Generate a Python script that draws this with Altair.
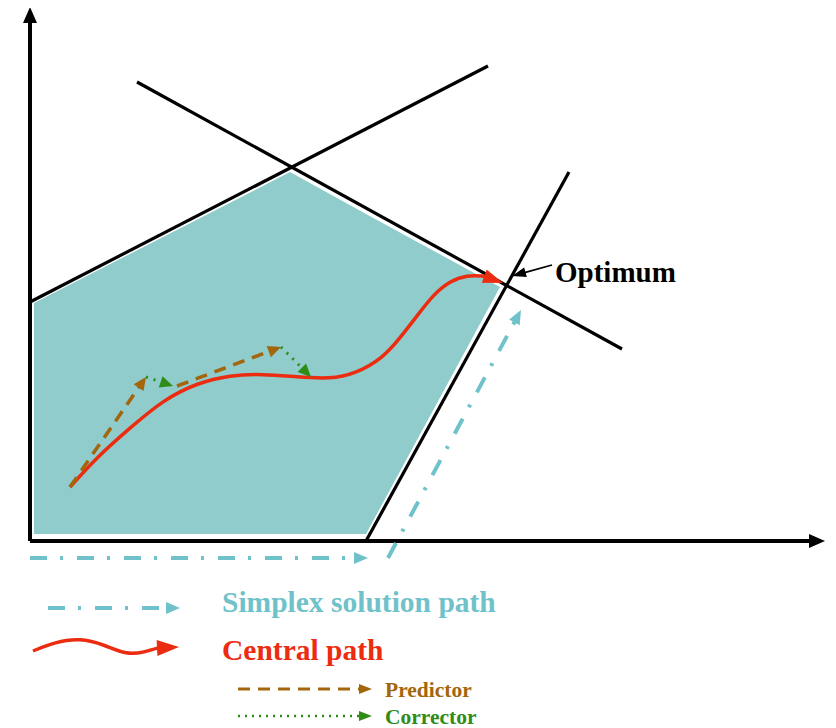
import math
import altair as alt
import pandas as pd

# ---------------- data (image coordinates, y grows downward) ----------------
# coordinate axes (last point of each = arrow tip)
Y_AXIS_X = [30, 30]
Y_AXIS_Y = [541, 7]
X_AXIS_X = [30, 825]
X_AXIS_Y = [541, 541]

# constraint lines
C1_X = [30, 488]
C1_Y = [302, 66]
C2_X = [137, 622]
C2_Y = [82, 349]
C3_X = [366, 569]
C3_Y = [541, 172]

# feasible region (teal polygon as area between top and bottom edges)
REGION_X = [34, 290, 366, 500]
REGION_TOP = [303, 172, 214, 287]
REGION_BOTTOM = [534, 534, 534, 287]

# central path (last point = arrow tip)
CENTRAL_X = [70, 97, 130, 163, 197, 230, 263, 297, 330, 355, 383, 400, 417, 433, 450, 467, 484, 503]
CENTRAL_Y = [487, 457, 428, 400, 383, 375, 374, 377, 379, 374, 358, 338, 316, 295, 281, 275, 276, 283]

# predictor / corrector steps
PRED1_X = [70, 146]
PRED1_Y = [487, 377]
PRED2_X = [177, 281]
PRED2_Y = [386, 347]
CORR1_X = [146, 173]
CORR1_Y = [377, 386]
CORR2_X = [281, 311]
CORR2_Y = [347, 377]

# simplex solution path
SIMP1_X = [30, 368]
SIMP1_Y = [558, 558]
SIMP2_X = [388, 521]
SIMP2_Y = [558, 310]

# optimum pointer
OPT_X = [552, 512]
OPT_Y = [265, 276]

# legend samples
LEG_SIMP_X = [48, 180]
LEG_SIMP_Y = [608, 608]
LEG_CENT_X = [33, 55, 80, 105, 127, 145, 157, 179]
LEG_CENT_Y = [651, 642, 638, 645, 655, 652, 648, 647]
LEG_PRED_X = [238, 372]
LEG_PRED_Y = [689, 689]
LEG_CORR_X = [238, 372]
LEG_CORR_Y = [716, 716]

# text labels
LABELS = ["Optimum", "Simplex solution path", "Central path", "Predictor", "Corrector"]
LABEL_X = [555, 222, 222, 385, 385]
LABEL_Y = [282, 612, 660, 697, 724]

# ---------------- styles ----------------
BLACK = "#000000"
TEAL_FILL = "#8FCCCB"
TEAL = "#6FC2CA"
RED = "#EC2C10"
BROWN = "#A3660C"
GREEN = "#2F8C17"
LABEL_SIZE = [29, 29.5, 29.5, 21.5, 21.5]
LABEL_COLOR = [BLACK, TEAL, RED, BROWN, GREEN]

XS = alt.Scale(domain=[8, 828], nice=False, zero=False)
YS = alt.Scale(domain=[8, 728], nice=False, zero=False, reverse=True)


def enc_xy(yfield="y"):
    return dict(x=alt.X("x:Q", scale=XS, axis=None),
                y=alt.Y(f"{yfield}:Q", scale=YS, axis=None))


def line(xs, ys, color, width, dash=None, interp="linear", cap="butt"):
    df = pd.DataFrame({"x": list(xs), "y": list(ys), "i": list(range(len(xs)))})
    kw = dict(color=color, strokeWidth=width, interpolate=interp,
              strokeCap=cap, strokeJoin="round")
    if dash:
        kw["strokeDash"] = dash
    return alt.Chart(df).mark_line(**kw).encode(**enc_xy(), order=alt.Order("i:Q"))


def arrow(xs, ys, color, width, head_len, head_half, dash=None, interp="linear", cap="butt"):
    tx, ty = xs[-1], ys[-1]
    px, py = xs[-2], ys[-2]
    d = math.hypot(tx - px, ty - py)
    ux, uy = (tx - px) / d, (ty - py) / d
    bx, by = tx - ux * head_len * 0.8, ty - uy * head_len * 0.8
    lx = list(xs[:-1]) + [bx]
    ly = list(ys[:-1]) + [by]
    out = [line(lx, ly, color, width, dash, interp, cap)]
    r = head_len / 2.0
    shape = f"M-2,{-head_half / r:.3f}L0,0L-2,{head_half / r:.3f}Z"
    ang = math.degrees(math.atan2(ty - py, tx - px)) % 360
    hdf = pd.DataFrame({"x": [tx], "y": [ty], "a": [ang]})
    head = alt.Chart(hdf).mark_point(
        shape=shape, filled=True, color=color, size=head_len ** 2,
        opacity=1, strokeWidth=0
    ).encode(**enc_xy(), angle=alt.Angle("a:Q", scale=None))
    out.append(head)
    return out


layers = []

region_df = pd.DataFrame({"x": REGION_X, "top": REGION_TOP, "bottom": REGION_BOTTOM})
layers.append(
    alt.Chart(region_df).mark_area(color=TEAL_FILL, opacity=1, interpolate="linear").encode(
        x=alt.X("x:Q", scale=XS, axis=None),
        y=alt.Y("top:Q", scale=YS, axis=None),
        y2="bottom:Q",
    )
)

# constraint lines
for cx, cy in [(C1_X, C1_Y), (C2_X, C2_Y), (C3_X, C3_Y)]:
    layers.append(line(cx, cy, BLACK, 3.2))

# axes
layers += arrow(Y_AXIS_X, Y_AXIS_Y, BLACK, 4, 16, 7)
layers += arrow(X_AXIS_X, X_AXIS_Y, BLACK, 4, 16, 7)

# simplex path
layers += arrow(SIMP1_X, SIMP1_Y, TEAL, 4, 14, 6, dash=[17, 13, 3, 14])
layers += arrow(SIMP2_X, SIMP2_Y, TEAL, 4, 14, 6, dash=[17, 13, 3, 14])

# central path
layers += arrow(CENTRAL_X, CENTRAL_Y, RED, 3.5, 20, 7, interp="basis")

# predictor / corrector
layers += arrow(PRED1_X, PRED1_Y, BROWN, 3.5, 13, 6, dash=[12, 8])
layers += arrow(PRED2_X, PRED2_Y, BROWN, 3.5, 13, 6, dash=[12, 8])
layers += arrow(CORR1_X, CORR1_Y, GREEN, 3, 13, 6, dash=[2, 6])
layers += arrow(CORR2_X, CORR2_Y, GREEN, 3, 13, 6, dash=[2, 6])

# optimum pointer
layers += arrow(OPT_X, OPT_Y, BLACK, 1.8, 14, 5)

# legend samples
layers += arrow(LEG_SIMP_X, LEG_SIMP_Y, TEAL, 4, 14, 6, dash=[17, 13, 3, 14])
layers += arrow(LEG_CENT_X, LEG_CENT_Y, RED, 3.5, 22, 8, interp="basis")
layers += arrow(LEG_PRED_X, LEG_PRED_Y, BROWN, 3, 13, 5, dash=[12, 8])
layers += arrow(LEG_CORR_X, LEG_CORR_Y, GREEN, 2.5, 13, 5, dash=[2, 5])

# labels
text_df = pd.DataFrame({"x": LABEL_X, "y": LABEL_Y, "label": LABELS,
                        "fs": LABEL_SIZE, "c": LABEL_COLOR})
layers.append(
    alt.Chart(text_df).mark_text(align="left", baseline="alphabetic",
                                 font="Liberation Serif", fontWeight="bold").encode(
        **enc_xy(), text="label:N",
        color=alt.Color("c:N", scale=None),
        size=alt.Size("fs:Q", scale=None),
    )
)

chart = alt.layer(*layers).properties(
    width=820, height=720, padding=0,
    autosize=alt.AutoSizeParams(type="none"),
).configure_view(stroke=None)

chart.save("out.html", embed_options={"renderer": "svg", "actions": False})
